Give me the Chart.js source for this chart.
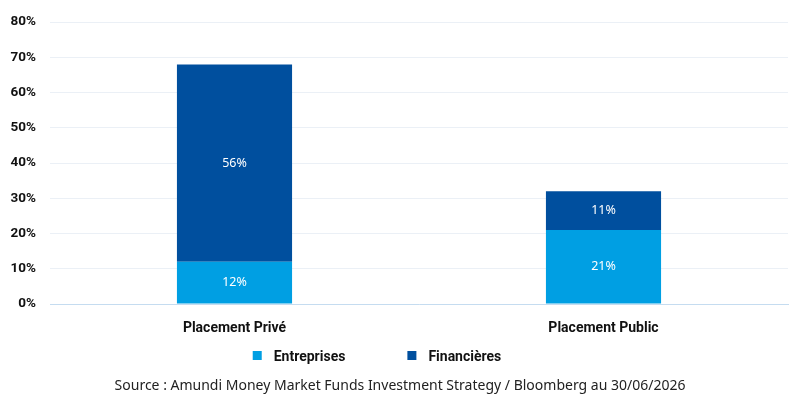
<!DOCTYPE html>
<html>
<head>
<meta charset="utf-8">
<script src="https://cdn.jsdelivr.net/npm/chart.js@4/dist/chart.umd.min.js"></script>
<style>
html,body{margin:0;padding:0;background:#fff;}
#wrap{width:800px;height:400px;position:relative;}
</style>
</head>
<body>
<div id="wrap"><canvas id="c" width="800" height="400"></canvas></div>
<script>
const categories = ['Placement Privé', 'Placement Public'];
const entreprises = [12, 21];
const financieres = [56, 11];
const yTicks = [0, 10, 20, 30, 40, 50, 60, 70, 80];
const seriesNames = ['Entreprises', 'Financières'];
const sourceText = 'Source : Amundi Money Market Funds Investment Strategy / Bloomberg au 30/06/2026';

const valueLabels = {
  id: 'valueLabels',
  afterDatasetsDraw(chart) {
    const ctx = chart.ctx;
    ctx.save();
    ctx.fillStyle = '#ffffff';
    ctx.font = '12.5px "Noto Sans"';
    ctx.textAlign = 'center';
    ctx.textBaseline = 'middle';
    chart.data.datasets.forEach((ds, i) => {
      chart.getDatasetMeta(i).data.forEach((bar, j) => {
        const p = bar.getProps(['x', 'y', 'base'], true);
        ctx.fillText(ds.data[j] + '%', p.x, (p.y + p.base) / 2);
      });
    });
    ctx.restore();
  }
};

const bottomLegend = {
  id: 'bottomLegend',
  afterDraw(chart) {
    const ctx = chart.ctx;
    ctx.save();
    ctx.font = 'bold 14px Roboto';
    ctx.textBaseline = 'middle';
    ctx.textAlign = 'left';
    const box = 9, gap = 12, itemGap = 62;
    const items = chart.data.datasets.map(ds => ({ text: ds.label, color: ds.backgroundColor, w: ctx.measureText(ds.label).width }));
    const total = items.reduce((s, it) => s + box + gap + it.w, 0) + itemGap * (items.length - 1);
    let x = 377 - total / 2;
    const y = chart.chartArea.bottom + 52;
    items.forEach(it => {
      ctx.fillStyle = it.color;
      ctx.fillRect(x, y - 5, box, box);
      ctx.fillStyle = '#111';
      ctx.fillText(it.text, x + box + gap, y + 1);
      x += box + gap + it.w + itemGap;
    });
    ctx.font = '14px "Noto Sans"';
    ctx.textAlign = 'center';
    ctx.fillStyle = '#222';
    ctx.fillText(sourceText, 400, chart.chartArea.bottom + 82);
    ctx.restore();
  }
};

new Chart(document.getElementById('c'), {
  type: 'bar',
  data: {
    labels: categories,
    datasets: [
      { label: seriesNames[0], data: entreprises, backgroundColor: '#009fe3', categoryPercentage: 1, barPercentage: 0.312 },
      { label: seriesNames[1], data: financieres, backgroundColor: '#004f9e', categoryPercentage: 1, barPercentage: 0.312 }
    ]
  },
  options: {
    responsive: false,
    animation: false,
    layout: { padding: { left: 8, right: 12, top: 13, bottom: 56 } },
    scales: {
      x: {
        stacked: true,
        afterFit(axis) { axis.height = 40; },
        grid: { display: false },
        border: { color: '#c5dcf0', width: 1 },
        ticks: { color: '#111', font: { family: 'Roboto', weight: 'bold', size: 14 }, padding: 8 }
      },
      y: {
        stacked: true,
        min: 0, max: 80,
        afterFit(axis) { axis.width = 42; },
        afterBuildTicks(axis) { axis.ticks = yTicks.map(v => ({ value: v })); },
        grid: { color: '#ebf0f6', drawTicks: false },
        border: { display: false },
        ticks: { color: '#111', font: { family: 'Roboto', weight: 'bold', size: 13.5 }, padding: 14, callback: v => v + '%' }
      }
    },
    plugins: {
      legend: { display: false },
      title: { display: false },
      tooltip: { enabled: false }
    }
  },
  plugins: [valueLabels, bottomLegend]
});
</script>
</body>
</html>
